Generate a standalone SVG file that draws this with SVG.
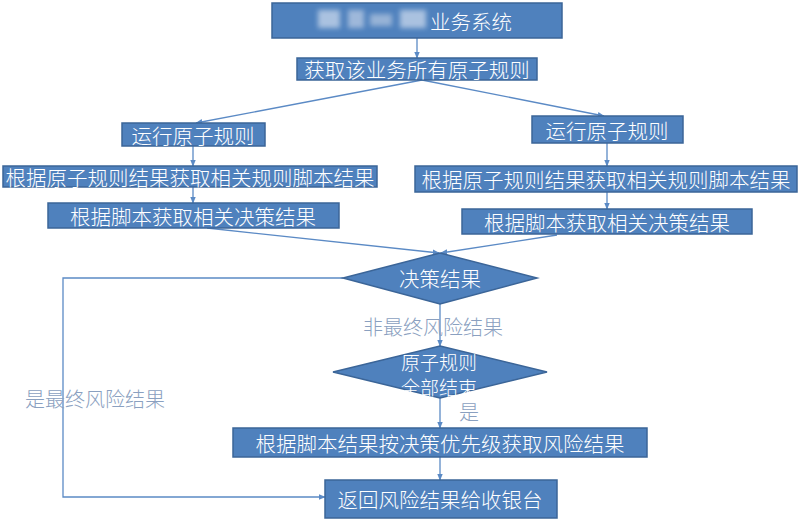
<svg xmlns="http://www.w3.org/2000/svg" width="800" height="522" viewBox="0 0 800 522">
<style>
.box{fill:#4f81bd;stroke:#3b6598;stroke-width:1.5}
.t{fill:#ffffff;font-family:"Noto Sans CJK SC","Noto Sans",sans-serif;font-size:20.5px;font-weight:300;text-anchor:middle;dominant-baseline:central}
.td{fill:#ffffff;font-family:"Noto Sans CJK SC","Noto Sans",sans-serif;font-size:19px;font-weight:300;text-anchor:middle;dominant-baseline:central}
.lbl{fill:#8aa0c0;font-family:"Noto Sans CJK SC","Noto Sans",sans-serif;font-size:20px;font-weight:300;text-anchor:middle;dominant-baseline:central}
.c{fill:none;stroke:#5b8ac5;stroke-width:1.3}
</style>
<defs>
<marker id="a" viewBox="0 0 10 10" refX="9" refY="5" markerWidth="7" markerHeight="7" orient="auto" markerUnits="userSpaceOnUse">
<path d="M0,1 L10,5 L0,9 z" fill="#5b8ac5"/>
</marker>
<filter id="bl" x="-20%" y="-50%" width="140%" height="200%"><feGaussianBlur stdDeviation="2.5"/></filter>
</defs>
<rect width="800" height="522" fill="#ffffff"/>
<g id="connectors">
<line class="c" x1="417" y1="38" x2="417" y2="58" marker-end="url(#a)"/>
<line class="c" x1="422" y1="80" x2="196" y2="123" marker-end="url(#a)"/>
<line class="c" x1="422" y1="80" x2="604" y2="116" marker-end="url(#a)"/>
<line class="c" x1="193" y1="146" x2="193" y2="166" marker-end="url(#a)"/>
<line class="c" x1="193" y1="187" x2="193" y2="203" marker-end="url(#a)"/>
<line class="c" x1="607" y1="143" x2="607" y2="166" marker-end="url(#a)"/>
<line class="c" x1="607" y1="192" x2="607" y2="209" marker-end="url(#a)"/>
<line class="c" x1="207" y1="228" x2="439" y2="253" marker-end="url(#a)"/>
<line class="c" x1="557" y1="235" x2="441" y2="253" marker-end="url(#a)"/>
<line class="c" x1="440" y1="304" x2="440" y2="346" marker-end="url(#a)"/>
<line class="c" x1="440" y1="398" x2="440" y2="428" marker-end="url(#a)"/>
<line class="c" x1="440" y1="457" x2="440" y2="480" marker-end="url(#a)"/>
<polyline class="c" points="343,278 63,278 63,497 325,497" marker-end="url(#a)"/>
</g>
<g id="n1">
<rect class="box" x="272" y="3" width="290" height="35"/>
<g filter="url(#bl)" opacity="0.75">
<rect x="318" y="10" width="22" height="18" fill="#c9d8ec"/>
<rect x="348" y="10" width="16" height="18" fill="#b9cbe4"/>
<rect x="370" y="14" width="22" height="12" fill="#aec3df"/>
<rect x="400" y="10" width="26" height="18" fill="#c9d8ec"/>
</g>
<text class="t" x="471" y="21">业务系统</text>
</g>
<g id="n2">
<rect class="box" x="297" y="58" width="240" height="22"/>
<text class="t" x="417" y="69">获取该业务所有原子规则</text>
</g>
<g id="n3">
<rect class="box" x="122" y="123" width="143" height="23"/>
<text class="t" x="193" y="134.5">运行原子规则</text>
</g>
<g id="n4">
<rect class="box" x="3" y="166" width="374" height="21"/>
<text class="t" x="190" y="176.5">根据原子规则结果获取相关规则脚本结果</text>
</g>
<g id="n5">
<rect class="box" x="48" y="203" width="291" height="25"/>
<text class="t" x="193" y="215.5">根据脚本获取相关决策结果</text>
</g>
<g id="n6">
<rect class="box" x="532" y="116" width="151" height="27"/>
<text class="t" x="607" y="129.5">运行原子规则</text>
</g>
<g id="n7">
<rect class="box" x="415" y="166" width="382" height="26"/>
<text class="t" x="606" y="179">根据原子规则结果获取相关规则脚本结果</text>
</g>
<g id="n8">
<rect class="box" x="462" y="209" width="290" height="25"/>
<text class="t" x="607" y="221.5">根据脚本获取相关决策结果</text>
</g>
<g id="d1">
<polygon class="box" points="440,253 537,278 440,304 343,278"/>
<text class="t" x="440" y="278">决策结果</text>
</g>
<g id="d2">
<polygon class="box" points="440,346 547,372 440,398 333,372"/>
<text class="td" x="439" y="361">原子规则</text>
<text class="td" x="439" y="386">全部结束</text>
</g>
<g id="n9">
<rect class="box" x="233" y="428" width="414" height="29"/>
<text class="t" x="440" y="442.5">根据脚本结果按决策优先级获取风险结果</text>
</g>
<g id="n10">
<rect class="box" x="325" y="480" width="232" height="38"/>
<text class="t" x="440" y="499">返回风险结果给收银台</text>
</g>
<g id="labels">
<text class="lbl" x="433" y="326">非最终风险结果</text>
<text class="lbl" x="469" y="411">是</text>
<text class="lbl" x="95" y="398">是最终风险结果</text>
</g>
</svg>
